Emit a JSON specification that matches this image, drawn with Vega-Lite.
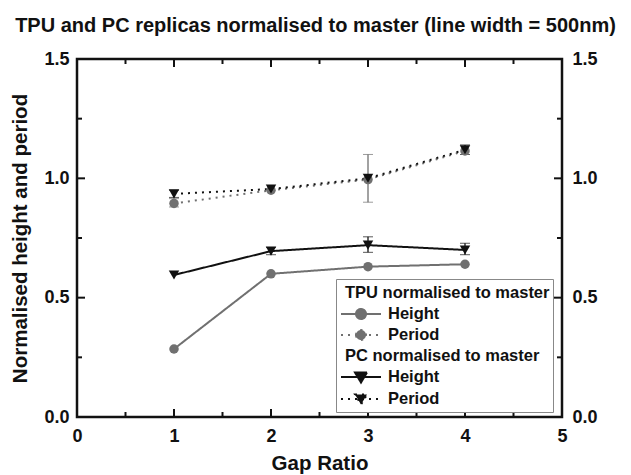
{
  "$schema": "https://vega.github.io/schema/vega-lite/v6.json",
  "width": 485,
  "height": 358,
  "autosize": "none",
  "padding": {"left": 77, "top": 59, "right": 69, "bottom": 58},
  "title": {"text": "TPU and PC replicas normalised to master  (line width = 500nm)", "fontSize": 20, "font": "Liberation Sans", "fontWeight": "bold", "color": "#111111", "anchor": "middle", "offset": 14, "dx": -4},
  "config": {
    "view": {"stroke": "#111111", "strokeWidth": 2.5},
    "font": "Liberation Sans",
    "rule": {"color": "#111111", "strokeWidth": 2},
    "axis": {"domain": false, "grid": false, "ticks": false, "tickSize": 0, "labelFontSize": 18, "labelFontWeight": "bold", "labelColor": "#111111", "titleFontSize": 20.5, "titleFontWeight": "bold", "titleColor": "#111111", "labelFlush": false}
  },
  "datasets": {
    "pts": [
      {"gap": 1, "value": 0.285, "material": "TPU", "series": "TPU Height"},
      {"gap": 2, "value": 0.60, "material": "TPU", "series": "TPU Height"},
      {"gap": 3, "value": 0.63, "material": "TPU", "series": "TPU Height"},
      {"gap": 4, "value": 0.64, "material": "TPU", "series": "TPU Height"},
      {"gap": 1, "value": 0.895, "material": "TPU", "series": "TPU Period"},
      {"gap": 2, "value": 0.95, "material": "TPU", "series": "TPU Period"},
      {"gap": 3, "value": 0.995, "material": "TPU", "series": "TPU Period"},
      {"gap": 4, "value": 1.115, "material": "TPU", "series": "TPU Period"},
      {"gap": 1, "value": 0.595, "material": "PC", "series": "PC Height"},
      {"gap": 2, "value": 0.695, "material": "PC", "series": "PC Height"},
      {"gap": 3, "value": 0.72, "material": "PC", "series": "PC Height"},
      {"gap": 4, "value": 0.70, "material": "PC", "series": "PC Height"},
      {"gap": 1, "value": 0.935, "material": "PC", "series": "PC Period"},
      {"gap": 2, "value": 0.955, "material": "PC", "series": "PC Period"},
      {"gap": 3, "value": 1.0, "material": "PC", "series": "PC Period"},
      {"gap": 4, "value": 1.12, "material": "PC", "series": "PC Period"}
    ],
    "errs": [
      {"gap": 1, "lo": 0.88, "hi": 0.915, "material": "TPU"},
      {"gap": 3, "lo": 0.90, "hi": 1.10, "material": "TPU"},
      {"gap": 1, "lo": 0.92, "hi": 0.95, "material": "PC"},
      {"gap": 4, "lo": 1.10, "hi": 1.14, "material": "PC"},
      {"gap": 2, "lo": 0.68, "hi": 0.71, "material": "PC"},
      {"gap": 3, "lo": 0.69, "hi": 0.755, "material": "PC"},
      {"gap": 4, "lo": 0.68, "hi": 0.728, "material": "PC"}
    ],
    "xmaj": [{"t": 0}, {"t": 1}, {"t": 2}, {"t": 3}, {"t": 4}, {"t": 5}],
    "xmin": [{"t": 0.5}, {"t": 1.5}, {"t": 2.5}, {"t": 3.5}, {"t": 4.5}],
    "ymaj": [{"t": 0}, {"t": 0.5}, {"t": 1.0}, {"t": 1.5}],
    "ymin": [{"t": 0.25}, {"t": 0.75}, {"t": 1.25}]
  },
  "layer": [
    {
      "data": {"name": "xmaj"}, "mark": {"type": "rule"},
      "encoding": {
        "x": {"field": "t", "type": "quantitative", "scale": {"domain": [0, 5], "nice": false}, "axis": null},
        "y": {"datum": 0, "type": "quantitative", "scale": {"domain": [0, 1.5], "nice": false}, "axis": null},
        "y2": {"datum": 0.0335}
      }
    },
    {
      "data": {"name": "xmaj"}, "mark": {"type": "rule"},
      "encoding": {
        "x": {"field": "t", "type": "quantitative", "scale": {"domain": [0, 5], "nice": false}, "axis": null},
        "y": {"datum": 1.5, "type": "quantitative", "scale": {"domain": [0, 1.5], "nice": false}, "axis": null},
        "y2": {"datum": 1.4665}
      }
    },
    {
      "data": {"name": "xmin"}, "mark": {"type": "rule"},
      "encoding": {
        "x": {"field": "t", "type": "quantitative", "scale": {"domain": [0, 5], "nice": false}, "axis": null},
        "y": {"datum": 0, "type": "quantitative", "scale": {"domain": [0, 1.5], "nice": false}, "axis": null},
        "y2": {"datum": 0.021}
      }
    },
    {
      "data": {"name": "xmin"}, "mark": {"type": "rule"},
      "encoding": {
        "x": {"field": "t", "type": "quantitative", "scale": {"domain": [0, 5], "nice": false}, "axis": null},
        "y": {"datum": 1.5, "type": "quantitative", "scale": {"domain": [0, 1.5], "nice": false}, "axis": null},
        "y2": {"datum": 1.479}
      }
    },
    {
      "data": {"name": "ymaj"}, "mark": {"type": "rule"},
      "encoding": {
        "y": {"field": "t", "type": "quantitative", "scale": {"domain": [0, 1.5], "nice": false}, "axis": null},
        "x": {"datum": 0, "type": "quantitative", "scale": {"domain": [0, 5], "nice": false}, "axis": null},
        "x2": {"datum": 0.0825}
      }
    },
    {
      "data": {"name": "ymaj"}, "mark": {"type": "rule"},
      "encoding": {
        "y": {"field": "t", "type": "quantitative", "scale": {"domain": [0, 1.5], "nice": false}, "axis": null},
        "x": {"datum": 5, "type": "quantitative", "scale": {"domain": [0, 5], "nice": false}, "axis": null},
        "x2": {"datum": 4.9175}
      }
    },
    {
      "data": {"name": "ymin"}, "mark": {"type": "rule"},
      "encoding": {
        "y": {"field": "t", "type": "quantitative", "scale": {"domain": [0, 1.5], "nice": false}, "axis": null},
        "x": {"datum": 0, "type": "quantitative", "scale": {"domain": [0, 5], "nice": false}, "axis": null},
        "x2": {"datum": 0.0515}
      }
    },
    {
      "data": {"name": "ymin"}, "mark": {"type": "rule"},
      "encoding": {
        "y": {"field": "t", "type": "quantitative", "scale": {"domain": [0, 1.5], "nice": false}, "axis": null},
        "x": {"datum": 5, "type": "quantitative", "scale": {"domain": [0, 5], "nice": false}, "axis": null},
        "x2": {"datum": 4.9485}
      }
    },
    {
      "data": {"name": "pts"},
      "mark": {"type": "line", "strokeWidth": 2},
      "encoding": {
        "x": {"field": "gap", "type": "quantitative", "scale": {"domain": [0, 5], "nice": false},
          "axis": {"orient": "bottom", "values": [0, 1, 2, 3, 4, 5], "format": ".0f", "labelPadding": 10, "title": "Gap Ratio", "titlePadding": 8}},
        "y": {"field": "value", "type": "quantitative", "scale": {"domain": [0, 1.5], "nice": false},
          "axis": {"orient": "left", "values": [0, 0.5, 1, 1.5], "format": ".1f", "labelPadding": 8, "title": "Normalised height and period", "titlePadding": 13}},
        "detail": {"field": "series"},
        "color": {"field": "material", "type": "nominal", "scale": {"domain": ["TPU", "PC"], "range": ["#707070", "#111111"]}, "legend": null},
        "strokeDash": {"field": "series", "type": "nominal",
          "scale": {"domain": ["TPU normalised to master", "TPU Height", "TPU Period", "PC normalised to master", "PC Height", "PC Period"], "range": [[1, 0], [1, 0], [2, 5], [1, 0], [1, 0], [2, 5]]},
          "legend": {
            "orient": "none", "legendX": 259, "legendY": 220, "title": null,
            "labelExpr": "indexof(datum.label, 'normalised') >= 0 ? datum.label : split(datum.label, ' ')[1]",
            "labelFontSize": 16.5, "labelFontWeight": "bold", "labelFont": "Liberation Sans", "labelColor": "#111111", "labelLimit": 400,
            "labelOffset": -16, "symbolSize": 400, "symbolStrokeWidth": 2,
            "rowPadding": 1, "padding": 3, "strokeColor": "#888888", "fillColor": "white",
            "encode": {
              "symbols": {"update": {
                "shape": {"signal": "indexof(datum.value, 'TPU') === 0 ? 'M-2,0H2M-0.5,0A0.5,0.5 0 1,1 0.5,0A0.5,0.5 0 1,1 -0.5,0Z' : 'M-2,0H2M-0.6,-0.45L0.6,-0.45L0,0.55Z'"},
                "fill": {"signal": "indexof(datum.value, 'TPU') === 0 ? '#707070' : '#111111'"},
                "stroke": {"signal": "indexof(datum.value, 'TPU') === 0 ? '#707070' : '#111111'"},
                "opacity": {"signal": "indexof(datum.value, 'normalised') >= 0 ? 0 : 1"},
                "x": {"value": 22}
              }},
              "labels": {"update": {"dx": {"signal": "indexof(datum.value, 'normalised') >= 0 ? 0 : 43"}}}
            }
          }
        }
      }
    },
    {
      "data": {"name": "errs"},
      "mark": {"type": "errorbar", "ticks": {"size": 10}, "rule": {"strokeWidth": 1.3}},
      "encoding": {
        "x": {"field": "gap", "type": "quantitative", "scale": {"domain": [0, 5], "nice": false}, "axis": null},
        "y": {"field": "lo", "type": "quantitative", "scale": {"domain": [0, 1.5], "nice": false}, "axis": null},
        "y2": {"field": "hi"},
        "color": {"field": "material", "type": "nominal", "scale": {"domain": ["TPU", "PC"], "range": ["#707070", "#111111"]}, "legend": null}
      }
    },
    {
      "data": {"name": "pts"},
      "transform": [{"filter": "datum.material === 'TPU'"}],
      "mark": {"type": "point", "filled": true, "opacity": 1, "shape": "circle", "size": 90, "color": "#707070"},
      "encoding": {
        "x": {"field": "gap", "type": "quantitative", "scale": {"domain": [0, 5], "nice": false}, "axis": null},
        "y": {"field": "value", "type": "quantitative", "scale": {"domain": [0, 1.5], "nice": false}, "axis": null}
      }
    },
    {
      "data": {"name": "pts"},
      "transform": [{"filter": "datum.material === 'PC'"}],
      "mark": {"type": "point", "filled": true, "opacity": 1, "shape": "triangle-down", "size": 110, "color": "#111111"},
      "encoding": {
        "x": {"field": "gap", "type": "quantitative", "scale": {"domain": [0, 5], "nice": false}, "axis": null},
        "y": {"field": "value", "type": "quantitative", "scale": {"domain": [0, 1.5], "nice": false},
          "axis": {"orient": "right", "values": [0, 0.5, 1, 1.5], "format": ".1f", "labelPadding": 10, "title": null}}
      }
    }
  ],
  "resolve": {"axis": {"x": "independent", "y": "independent"}}
}
